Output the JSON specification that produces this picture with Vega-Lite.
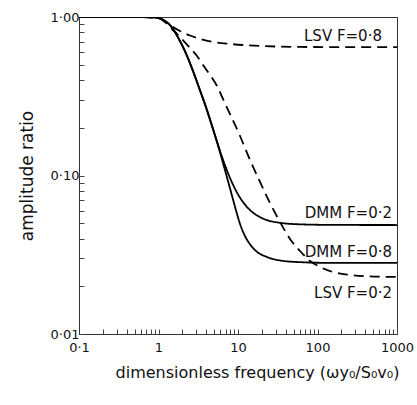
{
  "$schema": "https://vega.github.io/schema/vega-lite/v6.json",
  "autosize": "none",
  "padding": {"left": 79, "top": 17, "right": 20, "bottom": 71},
  "width": 318,
  "height": 317,
  "background": "white",
  "config": {
    "view": {"stroke": "#333", "strokeWidth": 1},
    "font": "DejaVu Sans",
    "axis": {
      "grid": false,
      "domainColor": "#333",
      "tickColor": "#444",
      "labelColor": "#111",
      "titleColor": "#111",
      "labelFont": "DejaVu Sans",
      "titleFont": "DejaVu Sans",
      "labelFontSize": 13,
      "titleFontSize": 16,
      "titleFontWeight": "normal"
    }
  },
  "datasets": {
    "curves": [
      {"series": "LSV F=0·8", "model": "LSV", "x": 0.1, "y": 1.0},
      {"series": "LSV F=0·8", "model": "LSV", "x": 0.438, "y": 1.0},
      {"series": "LSV F=0·8", "model": "LSV", "x": 0.782, "y": 0.996},
      {"series": "LSV F=0·8", "model": "LSV", "x": 0.986, "y": 0.986},
      {"series": "LSV F=0·8", "model": "LSV", "x": 1.207, "y": 0.944},
      {"series": "LSV F=0·8", "model": "LSV", "x": 1.395, "y": 0.89},
      {"series": "LSV F=0·8", "model": "LSV", "x": 1.864, "y": 0.816},
      {"series": "LSV F=0·8", "model": "LSV", "x": 2.49, "y": 0.764},
      {"series": "LSV F=0·8", "model": "LSV", "x": 3.05, "y": 0.737},
      {"series": "LSV F=0·8", "model": "LSV", "x": 4.848, "y": 0.696},
      {"series": "LSV F=0·8", "model": "LSV", "x": 7.933, "y": 0.676},
      {"series": "LSV F=0·8", "model": "LSV", "x": 20.63, "y": 0.656},
      {"series": "LSV F=0·8", "model": "LSV", "x": 60.26, "y": 0.647},
      {"series": "LSV F=0·8", "model": "LSV", "x": 1000, "y": 0.645},

      {"series": "DMM F=0·2", "model": "DMM", "x": 0.1, "y": 1.0},
      {"series": "DMM F=0·2", "model": "DMM", "x": 0.438, "y": 1.0},
      {"series": "DMM F=0·2", "model": "DMM", "x": 0.782, "y": 0.996},
      {"series": "DMM F=0·2", "model": "DMM", "x": 0.986, "y": 0.986},
      {"series": "DMM F=0·2", "model": "DMM", "x": 1.207, "y": 0.944},
      {"series": "DMM F=0·2", "model": "DMM", "x": 1.395, "y": 0.89},
      {"series": "DMM F=0·2", "model": "DMM", "x": 1.613, "y": 0.804},
      {"series": "DMM F=0·2", "model": "DMM", "x": 1.864, "y": 0.706},
      {"series": "DMM F=0·2", "model": "DMM", "x": 2.154, "y": 0.61},
      {"series": "DMM F=0·2", "model": "DMM", "x": 2.49, "y": 0.513},
      {"series": "DMM F=0·2", "model": "DMM", "x": 2.878, "y": 0.424},
      {"series": "DMM F=0·2", "model": "DMM", "x": 3.327, "y": 0.346},
      {"series": "DMM F=0·2", "model": "DMM", "x": 3.845, "y": 0.283},
      {"series": "DMM F=0·2", "model": "DMM", "x": 4.444, "y": 0.227},
      {"series": "DMM F=0·2", "model": "DMM", "x": 5.137, "y": 0.18},
      {"series": "DMM F=0·2", "model": "DMM", "x": 5.937, "y": 0.143},
      {"series": "DMM F=0·2", "model": "DMM", "x": 6.864, "y": 0.116},
      {"series": "DMM F=0·2", "model": "DMM", "x": 7.933, "y": 0.0965},
      {"series": "DMM F=0·2", "model": "DMM", "x": 9.17, "y": 0.0825},
      {"series": "DMM F=0·2", "model": "DMM", "x": 10.6, "y": 0.0725},
      {"series": "DMM F=0·2", "model": "DMM", "x": 12.25, "y": 0.0655},
      {"series": "DMM F=0·2", "model": "DMM", "x": 14.16, "y": 0.0605},
      {"series": "DMM F=0·2", "model": "DMM", "x": 17.34, "y": 0.056},
      {"series": "DMM F=0·2", "model": "DMM", "x": 23.16, "y": 0.0523},
      {"series": "DMM F=0·2", "model": "DMM", "x": 33.76, "y": 0.0503},
      {"series": "DMM F=0·2", "model": "DMM", "x": 60.26, "y": 0.0492},
      {"series": "DMM F=0·2", "model": "DMM", "x": 143.6, "y": 0.0488},
      {"series": "DMM F=0·2", "model": "DMM", "x": 1000, "y": 0.0487},

      {"series": "DMM F=0·8", "model": "DMM", "x": 0.1, "y": 1.0},
      {"series": "DMM F=0·8", "model": "DMM", "x": 0.438, "y": 1.0},
      {"series": "DMM F=0·8", "model": "DMM", "x": 0.782, "y": 0.996},
      {"series": "DMM F=0·8", "model": "DMM", "x": 0.986, "y": 0.986},
      {"series": "DMM F=0·8", "model": "DMM", "x": 1.207, "y": 0.942},
      {"series": "DMM F=0·8", "model": "DMM", "x": 1.395, "y": 0.887},
      {"series": "DMM F=0·8", "model": "DMM", "x": 1.613, "y": 0.8},
      {"series": "DMM F=0·8", "model": "DMM", "x": 1.864, "y": 0.702},
      {"series": "DMM F=0·8", "model": "DMM", "x": 2.154, "y": 0.606},
      {"series": "DMM F=0·8", "model": "DMM", "x": 2.49, "y": 0.509},
      {"series": "DMM F=0·8", "model": "DMM", "x": 2.878, "y": 0.42},
      {"series": "DMM F=0·8", "model": "DMM", "x": 3.327, "y": 0.343},
      {"series": "DMM F=0·8", "model": "DMM", "x": 3.845, "y": 0.28},
      {"series": "DMM F=0·8", "model": "DMM", "x": 4.444, "y": 0.224},
      {"series": "DMM F=0·8", "model": "DMM", "x": 5.137, "y": 0.178},
      {"series": "DMM F=0·8", "model": "DMM", "x": 5.937, "y": 0.14},
      {"series": "DMM F=0·8", "model": "DMM", "x": 6.864, "y": 0.108},
      {"series": "DMM F=0·8", "model": "DMM", "x": 7.933, "y": 0.083},
      {"series": "DMM F=0·8", "model": "DMM", "x": 9.17, "y": 0.0635},
      {"series": "DMM F=0·8", "model": "DMM", "x": 10.6, "y": 0.0495},
      {"series": "DMM F=0·8", "model": "DMM", "x": 12.25, "y": 0.0415},
      {"series": "DMM F=0·8", "model": "DMM", "x": 14.16, "y": 0.0368},
      {"series": "DMM F=0·8", "model": "DMM", "x": 17.34, "y": 0.033},
      {"series": "DMM F=0·8", "model": "DMM", "x": 23.16, "y": 0.0306},
      {"series": "DMM F=0·8", "model": "DMM", "x": 33.76, "y": 0.0291},
      {"series": "DMM F=0·8", "model": "DMM", "x": 60.26, "y": 0.0284},
      {"series": "DMM F=0·8", "model": "DMM", "x": 143.6, "y": 0.0281},
      {"series": "DMM F=0·8", "model": "DMM", "x": 1000, "y": 0.0281},

      {"series": "LSV F=0·2", "model": "LSV", "x": 0.1, "y": 1.0},
      {"series": "LSV F=0·2", "model": "LSV", "x": 0.438, "y": 1.0},
      {"series": "LSV F=0·2", "model": "LSV", "x": 0.782, "y": 0.996},
      {"series": "LSV F=0·2", "model": "LSV", "x": 0.986, "y": 0.986},
      {"series": "LSV F=0·2", "model": "LSV", "x": 1.207, "y": 0.93},
      {"series": "LSV F=0·2", "model": "LSV", "x": 1.478, "y": 0.84},
      {"series": "LSV F=0·2", "model": "LSV", "x": 1.864, "y": 0.748},
      {"series": "LSV F=0·2", "model": "LSV", "x": 2.49, "y": 0.637},
      {"series": "LSV F=0·2", "model": "LSV", "x": 3.05, "y": 0.567},
      {"series": "LSV F=0·2", "model": "LSV", "x": 3.629, "y": 0.498},
      {"series": "LSV F=0·2", "model": "LSV", "x": 4.444, "y": 0.431},
      {"series": "LSV F=0·2", "model": "LSV", "x": 5.442, "y": 0.367},
      {"series": "LSV F=0·2", "model": "LSV", "x": 6.478, "y": 0.304},
      {"series": "LSV F=0·2", "model": "LSV", "x": 7.933, "y": 0.244},
      {"series": "LSV F=0·2", "model": "LSV", "x": 10.6, "y": 0.1775},
      {"series": "LSV F=0·2", "model": "LSV", "x": 14.16, "y": 0.1253},
      {"series": "LSV F=0·2", "model": "LSV", "x": 18.91, "y": 0.091},
      {"series": "LSV F=0·2", "model": "LSV", "x": 25.26, "y": 0.0671},
      {"series": "LSV F=0·2", "model": "LSV", "x": 33.76, "y": 0.0509},
      {"series": "LSV F=0·2", "model": "LSV", "x": 45.1, "y": 0.0398},
      {"series": "LSV F=0·2", "model": "LSV", "x": 60.26, "y": 0.0334},
      {"series": "LSV F=0·2", "model": "LSV", "x": 80.51, "y": 0.0289},
      {"series": "LSV F=0·2", "model": "LSV", "x": 107.5, "y": 0.0265},
      {"series": "LSV F=0·2", "model": "LSV", "x": 156.7, "y": 0.0246},
      {"series": "LSV F=0·2", "model": "LSV", "x": 256.4, "y": 0.0236},
      {"series": "LSV F=0·2", "model": "LSV", "x": 457.5, "y": 0.0231},
      {"series": "LSV F=0·2", "model": "LSV", "x": 1000, "y": 0.0229}
    ],
    "labels": [
      {"label": "LSV  F=0·8", "x": 647, "y": 0.759},
      {"label": "DMM  F=0·2", "x": 865, "y": 0.058},
      {"label": "DMM  F=0·8", "x": 865, "y": 0.0329},
      {"label": "LSV  F=0·2", "x": 865, "y": 0.01814}
    ]
  },
  "layer": [
    {
      "data": {"name": "curves"},
      "mark": {"type": "line", "color": "black", "strokeWidth": 1.8, "interpolate": "monotone", "clip": true},
      "encoding": {
        "x": {
          "field": "x", "type": "quantitative",
          "scale": {"type": "log", "domain": [0.1, 1000], "nice": false},
          "axis": {
            "title": "dimensionless frequency  (ωy₀/S₀v₀)",
            "titleX": 178,
            "values": [0.1,0.2,0.3,0.4,0.5,0.6,0.7,0.8,0.9,1,2,3,4,5,6,7,8,9,10,20,30,40,50,60,70,80,90,100,200,300,400,500,600,700,800,900,1000],
            "labelExpr": "datum.value==0.1?'0·1':datum.value==1?'1':datum.value==10?'10':datum.value==100?'100':datum.value==1000?'1000':''",
            "tickSize": -5,
            "labelPadding": 12,
            "labelOverlap": false,
            "labelFlush": false,
            "titlePadding": 10
          }
        },
        "y": {
          "field": "y", "type": "quantitative",
          "scale": {"type": "log", "domain": [0.01, 1], "nice": false},
          "axis": {
            "title": "amplitude ratio",
            "values": [0.01,0.02,0.03,0.04,0.05,0.06,0.07,0.08,0.09,0.1,0.2,0.3,0.4,0.5,0.6,0.7,0.8,0.9,1],
            "labelExpr": "datum.value==0.01?'0·01':datum.value==0.1?'0·10':datum.value==1?'1·00':''",
            "tickSize": -5,
            "labelPadding": 5,
            "labelOverlap": false,
            "labelFlush": false,
            "titlePadding": 14,
            "titleFontSize": 17
          }
        },
        "detail": {"field": "series"},
        "strokeDash": {
          "field": "model", "type": "nominal",
          "scale": {"domain": ["DMM", "LSV"], "range": [[1, 0], [10, 6]]},
          "legend": null
        }
      }
    },
    {
      "data": {"name": "labels"},
      "mark": {"type": "text", "align": "right", "baseline": "middle", "fontSize": 15, "font": "DejaVu Sans", "color": "#111"},
      "encoding": {
        "x": {"field": "x", "type": "quantitative"},
        "y": {"field": "y", "type": "quantitative"},
        "text": {"field": "label"}
      }
    }
  ]
}
